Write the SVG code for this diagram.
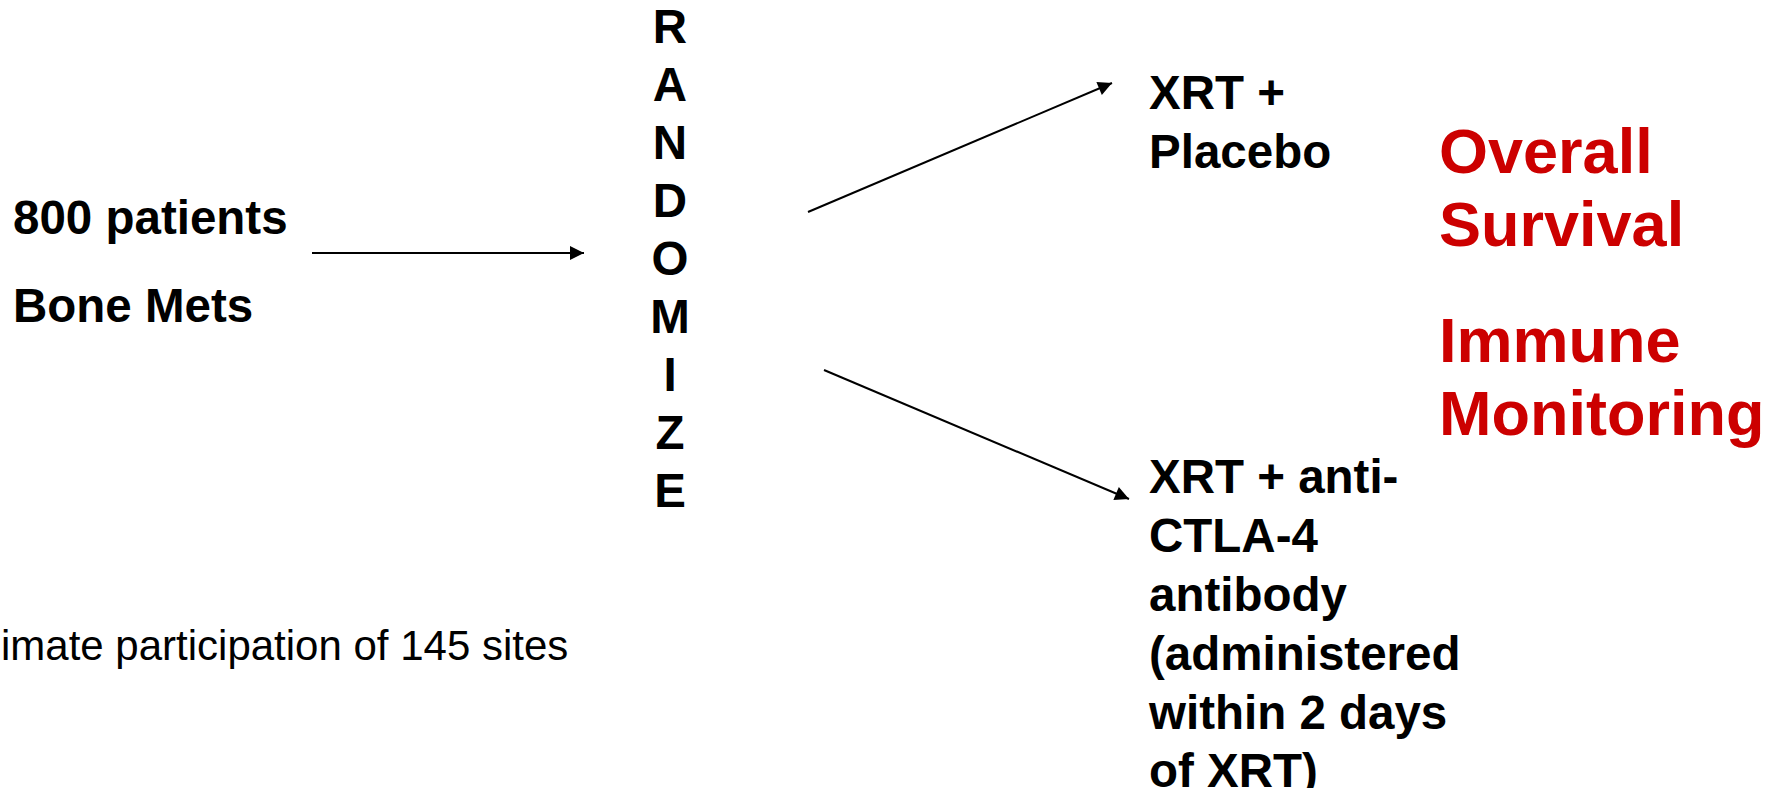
<svg xmlns="http://www.w3.org/2000/svg" width="1779" height="788" viewBox="0 0 1779 788">
<defs>
<style>
.b{font-family:"Liberation Sans",Arial,sans-serif;font-weight:bold;font-size:47.5px;fill:#000}
.r{font-family:"Liberation Sans",Arial,sans-serif;font-weight:bold;font-size:63px;fill:#CC0000}
.n{font-family:"Liberation Sans",Arial,sans-serif;font-size:42px;fill:#000}
.c{stroke:#000;stroke-width:2;fill:none}
</style>
<marker id="ah" viewBox="0 0 10 10" refX="10" refY="5" markerWidth="10" markerHeight="7" markerUnits="strokeWidth" orient="auto">
<path d="M0,0 L10,5 L0,10 z" fill="#000"/>
</marker>
</defs>
<rect width="1779" height="788" fill="#fff"/>
<g id="patients">
<text class="b" x="13" y="234">800 patients</text>
<text class="b" x="13" y="322">Bone Mets</text>
</g>
<g id="randomize">
<text class="b" x="670" text-anchor="middle" y="43">R</text>
<text class="b" x="670" text-anchor="middle" y="101">A</text>
<text class="b" x="670" text-anchor="middle" y="159">N</text>
<text class="b" x="670" text-anchor="middle" y="217">D</text>
<text class="b" x="670" text-anchor="middle" y="275">O</text>
<text class="b" x="670" text-anchor="middle" y="333">M</text>
<text class="b" x="670" text-anchor="middle" y="391">I</text>
<text class="b" x="670" text-anchor="middle" y="449">Z</text>
<text class="b" x="670" text-anchor="middle" y="507">E</text>
</g>
<g id="placebo">
<text class="b" x="1149" y="109">XRT +</text>
<text class="b" x="1149" y="168">Placebo</text>
</g>
<g id="ctla4">
<text class="b" x="1149" y="493">XRT + anti-</text>
<text class="b" x="1149" y="552">CTLA-4</text>
<text class="b" x="1149" y="611">antibody</text>
<text class="b" x="1149" y="670">(administered</text>
<text class="b" x="1149" y="729">within 2 days</text>
<text class="b" x="1149" y="787">of XRT)</text>
</g>
<g id="endpoints">
<text class="r" x="1439" y="173">Overall</text>
<text class="r" x="1439" y="246">Survival</text>
<text class="r" x="1439" y="362">Immune</text>
<text class="r" x="1439" y="435">Monitoring</text>
</g>
<g id="note">
<text class="n" x="1" y="660">imate participation of 145 sites</text>
</g>
<g id="connectors">
<line class="c" x1="312" y1="253" x2="584" y2="253" marker-end="url(#ah)"/>
<line class="c" x1="808" y1="212" x2="1112" y2="83" marker-end="url(#ah)"/>
<line class="c" x1="824" y1="370" x2="1129" y2="499" marker-end="url(#ah)"/>
</g>
</svg>
